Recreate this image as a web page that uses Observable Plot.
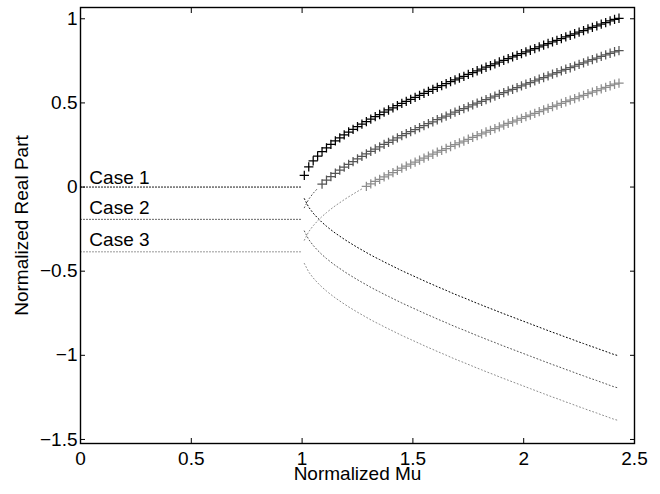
<!DOCTYPE html>
<html><head><meta charset="utf-8">
<script src="https://cdn.jsdelivr.net/npm/d3@7"></script>
<script src="https://cdn.jsdelivr.net/npm/@observablehq/plot@0.6"></script>
<style>
html,body{margin:0;padding:0;background:#fff;}
#chart svg{display:block;}
</style></head><body><div id="chart"></div>
<script>
// ---- data ----
const caseNames = ["Case 1", "Case 2", "Case 3"];
const caseColors = ["#000000", "#555555", "#8c8c8c"];
const stableMu = [0, 1];                    // mu range where roots are complex
const stableLevel = [0, -0.192, -0.385];    // real part for mu < 1
const labelX = [0.04, 0.04, 0.04];
const labelY = [0.02, -0.16, -0.35];

const mu = [1.01,1.03,1.05,1.07,1.09,1.11,1.13,1.15,1.17,1.19,
  1.21,1.23,1.25,1.27,1.29,1.31,1.33,1.35,1.37,1.39,
  1.41,1.43,1.45,1.47,1.49,1.51,1.53,1.55,1.57,1.59,
  1.61,1.63,1.65,1.67,1.69,1.71,1.73,1.75,1.77,1.79,
  1.81,1.83,1.85,1.87,1.89,1.91,1.93,1.95,1.97,1.99,
  2.01,2.03,2.05,2.07,2.09,2.11,2.13,2.15,2.17,2.19,
  2.21,2.23,2.25,2.27,2.29,2.31,2.33,2.35,2.37,2.39,
  2.41,2.43];

const upper1 = [0.069,0.120,0.155,0.184,0.210,0.233,0.254,0.274,0.292,0.310,
  0.327,0.343,0.359,0.374,0.389,0.404,0.418,0.431,0.445,0.458,
  0.471,0.484,0.497,0.509,0.521,0.533,0.545,0.557,0.569,0.580,
  0.592,0.603,0.614,0.626,0.637,0.648,0.658,0.669,0.680,0.691,
  0.701,0.712,0.722,0.732,0.743,0.753,0.763,0.773,0.783,0.793,
  0.803,0.813,0.823,0.833,0.843,0.853,0.863,0.872,0.882,0.892,
  0.901,0.911,0.921,0.930,0.940,0.949,0.958,0.968,0.977,0.987,
  0.996,1.003];
const lower1 = [-0.069,-0.120,-0.155,-0.184,-0.210,-0.233,-0.254,-0.274,-0.292,-0.310,
  -0.327,-0.343,-0.359,-0.374,-0.389,-0.404,-0.418,-0.431,-0.445,-0.458,
  -0.471,-0.484,-0.497,-0.509,-0.521,-0.533,-0.545,-0.557,-0.569,-0.580,
  -0.592,-0.603,-0.614,-0.626,-0.637,-0.648,-0.658,-0.669,-0.680,-0.691,
  -0.701,-0.712,-0.722,-0.732,-0.743,-0.753,-0.763,-0.773,-0.783,-0.793,
  -0.803,-0.813,-0.823,-0.833,-0.843,-0.853,-0.863,-0.872,-0.882,-0.892,
  -0.901,-0.911,-0.921,-0.930,-0.940,-0.949,-0.958,-0.968,-0.977,-0.987,
  -0.996,-1.003];
const upper2 = [-0.123,-0.072,-0.037,-0.008,0.018,0.041,0.062,0.082,0.100,0.118,
  0.135,0.151,0.167,0.182,0.197,0.212,0.226,0.239,0.253,0.266,
  0.279,0.292,0.305,0.317,0.329,0.341,0.353,0.365,0.377,0.388,
  0.400,0.411,0.422,0.434,0.445,0.456,0.466,0.477,0.488,0.499,
  0.509,0.520,0.530,0.540,0.551,0.561,0.571,0.581,0.591,0.601,
  0.611,0.621,0.631,0.641,0.651,0.661,0.671,0.680,0.690,0.700,
  0.709,0.719,0.729,0.738,0.748,0.757,0.766,0.776,0.785,0.795,
  0.804,0.811];
const lower2 = [-0.261,-0.312,-0.347,-0.376,-0.402,-0.425,-0.446,-0.466,-0.484,-0.502,
  -0.519,-0.535,-0.551,-0.566,-0.581,-0.596,-0.610,-0.623,-0.637,-0.650,
  -0.663,-0.676,-0.689,-0.701,-0.713,-0.725,-0.737,-0.749,-0.761,-0.772,
  -0.784,-0.795,-0.806,-0.818,-0.829,-0.840,-0.850,-0.861,-0.872,-0.883,
  -0.893,-0.904,-0.914,-0.924,-0.935,-0.945,-0.955,-0.965,-0.975,-0.985,
  -0.995,-1.005,-1.015,-1.025,-1.035,-1.045,-1.055,-1.064,-1.074,-1.084,
  -1.093,-1.103,-1.113,-1.122,-1.132,-1.141,-1.150,-1.160,-1.169,-1.179,
  -1.188,-1.195];
const upper3 = [-0.316,-0.265,-0.230,-0.201,-0.175,-0.152,-0.131,-0.111,-0.093,-0.075,
  -0.058,-0.042,-0.026,-0.011,0.004,0.019,0.033,0.046,0.060,0.073,
  0.086,0.099,0.112,0.124,0.136,0.148,0.160,0.172,0.184,0.195,
  0.207,0.218,0.229,0.241,0.252,0.263,0.273,0.284,0.295,0.306,
  0.316,0.327,0.337,0.347,0.358,0.368,0.378,0.388,0.398,0.408,
  0.418,0.428,0.438,0.448,0.458,0.468,0.478,0.487,0.497,0.507,
  0.516,0.526,0.536,0.545,0.555,0.564,0.573,0.583,0.592,0.602,
  0.611,0.618];
const lower3 = [-0.454,-0.505,-0.540,-0.569,-0.595,-0.618,-0.639,-0.659,-0.677,-0.695,
  -0.712,-0.728,-0.744,-0.759,-0.774,-0.789,-0.803,-0.816,-0.830,-0.843,
  -0.856,-0.869,-0.882,-0.894,-0.906,-0.918,-0.930,-0.942,-0.954,-0.965,
  -0.977,-0.988,-0.999,-1.011,-1.022,-1.033,-1.043,-1.054,-1.065,-1.076,
  -1.086,-1.097,-1.107,-1.117,-1.128,-1.138,-1.148,-1.158,-1.168,-1.178,
  -1.188,-1.198,-1.208,-1.218,-1.228,-1.238,-1.248,-1.257,-1.267,-1.277,
  -1.286,-1.296,-1.306,-1.315,-1.325,-1.334,-1.343,-1.353,-1.362,-1.372,
  -1.381,-1.388];

const xTicks = [0, 0.5, 1, 1.5, 2, 2.5];
const yTicks = [-1.5, -1, -0.5, 0, 0.5, 1];
const xLabel = "Normalized Mu";
const yLabel = "Normalized Real Part";

// ---- build tables ----
const uppers = [upper1, upper2, upper3];
const lowers = [lower1, lower2, lower3];
const marks = [];
caseNames.forEach((name, i) => {
  const color = caseColors[i];
  const stable = stableMu.map(m => ({mu: m, v: stableLevel[i]}));
  const up = mu.map((m, j) => ({mu: m, v: uppers[i][j]}));
  const lo = mu.map((m, j) => ({mu: m, v: lowers[i][j]}));
  marks.push(Plot.line(stable, {x: "mu", y: "v", stroke: color, strokeWidth: 1, strokeDasharray: "1,2"}));
  marks.push(Plot.line(lo, {x: "mu", y: "v", stroke: color, strokeWidth: 1, strokeDasharray: "1,2.5"}));
  marks.push(Plot.line(up.filter(d => d.v <= 0), {x: "mu", y: "v", stroke: color, strokeWidth: 1, strokeDasharray: "1,2.5"}));
  marks.push(Plot.dot(up.filter(d => d.v > 0), {x: "mu", y: "v", symbol: "plus", r: 3.1, stroke: color, strokeWidth: 1.25}));
  marks.push(Plot.text([name], {x: () => labelX[i], y: () => labelY[i], text: d => d, textAnchor: "start", lineAnchor: "bottom", fill: "black"}));
});

const chart = Plot.plot({
  width: 660,
  height: 494,
  marginLeft: 80,
  marginRight: 26,
  marginTop: 7,
  marginBottom: 51,
  style: {fontFamily: "'Liberation Sans', Arial, Helvetica, sans-serif", fontSize: "19px", background: "white", color: "black"},
  x: {domain: [0, 2.5]},
  y: {domain: [-1.524, 1.067]},
  marks: [
    ...marks,
    Plot.frame({stroke: "black", strokeWidth: 1.4}),
    // labels
    Plot.axisX(xTicks, {anchor: "bottom", tickSize: 0, tickPadding: 8, tickFormat: d => String(d).replace("-", "\u2212"), label: null}),
    Plot.axisY(yTicks, {anchor: "left", tickSize: 0, tickPadding: 3, tickFormat: d => String(d).replace("-", "\u2212"), label: null}),
    // inward ticks on all four sides
    Plot.axisX(xTicks, {anchor: "bottom", tickSize: 5, dy: -5, fill: "none", label: null}),
    Plot.axisX(xTicks, {anchor: "top", tickSize: 5, dy: 5, fill: "none", label: null}),
    Plot.axisY(yTicks, {anchor: "left", tickSize: 5, dx: 5, fill: "none", label: null}),
    Plot.axisY(yTicks, {anchor: "right", tickSize: 5, dx: -5, fill: "none", label: null}),
    Plot.text([xLabel], {frameAnchor: "bottom", dy: 36, text: d => d, textAnchor: "middle", lineAnchor: "bottom", fill: "black"}),
    Plot.text([yLabel], {frameAnchor: "left", dx: -52.5, rotate: -90, text: d => d, textAnchor: "middle", lineAnchor: "bottom", fill: "black"})
  ]
});
document.getElementById("chart").appendChild(chart);
</script>
</body></html>
